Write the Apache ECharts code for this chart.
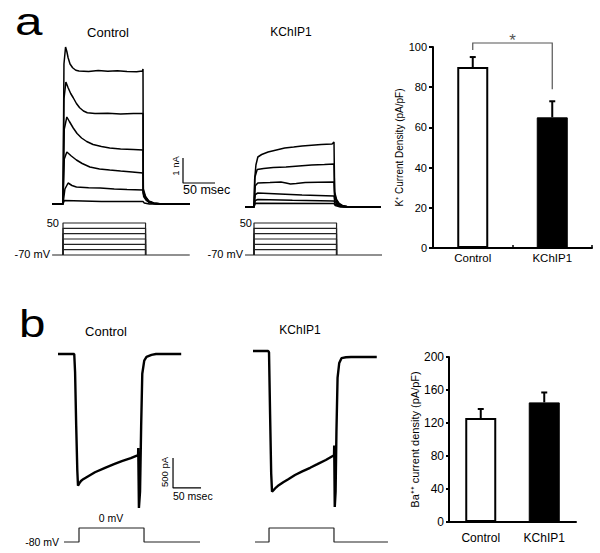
<!DOCTYPE html>
<html><head><meta charset="utf-8">
<script src="https://cdn.jsdelivr.net/npm/echarts@6.0.0/dist/echarts.min.js"></script>
<style>html,body{margin:0;padding:0;background:#fff}#c{width:600px;height:553px}</style>
</head><body><div id="c"></div>
<script>
// ---------- bar chart data ----------
const categories = ['Control', 'KChIP1'];
const kDensity = [90, 65];          // K+ current density (pA/pF)
const kSem = [5, 8];
const kTicks = [0, 20, 40, 60, 80, 100];
const kSigBracket = [98.5, 102, 79]; // left foot, top, right foot (pA/pF)
const kStarValue = 103;
const baDensity = [126, 145];       // Ba++ current density (pA/pF)
const baSem = [11, 12];
const baTicks = [0, 40, 80, 120, 160, 200];

// ---------- panel a: K+ current traces (t ms, I nA) ----------
const ctrlA1 = [[3,0],[20,0],[21.5,5.6],[24,6.28],[26,6.1],[28,5.85],[31,5.6],[35,5.45],[40,5.35],[45,5.32],[60,5.3],[75,5.34],[90,5.31],[105,5.33],[120,5.3],[135,5.29],[144,5.32],[145,5.4],[145.5,0.6],[149,0.3],[154,0.12],[162,0.04],[175,0],[218,0]];
const ctrlA2 = [[3,0],[20,0],[21.5,4.2],[24.5,4.88],[28,4.65],[32,4.42],[36,4.25],[41,4.02],[46,3.85],[52,3.72],[58,3.65],[70,3.62],[90,3.63],[110,3.6],[130,3.62],[145,3.62],[145.5,0.5],[149,0.27],[154,0.1],[162,0.03],[175,0],[218,0]];
const ctrlA3 = [[3,0],[20,0],[22,3.0],[26,3.48],[30,3.3],[36,3.04],[42,2.82],[49,2.64],[57,2.5],[67,2.38],[80,2.3],[93,2.24],[110,2.2],[130,2.18],[145,2.16],[145.5,0.45],[149,0.25],[154,0.1],[162,0.03],[175,0],[218,0]];
const ctrlA4 = [[3,0],[20,0],[22,1.8],[26,2.08],[33,1.92],[41,1.76],[50,1.62],[62,1.48],[77,1.4],[93,1.36],[110,1.32],[128,1.28],[145,1.24],[145.5,0.4],[149,0.22],[154,0.08],[162,0.02],[175,0],[218,0]];
const ctrlA5 = [[3,0],[20,0],[23,0.6],[28,0.84],[34,0.74],[41,0.68],[60,0.65],[78,0.64],[100,0.6],[120,0.58],[145,0.56],[146,0.3],[150,0.15],[156,0.05],[165,0],[218,0]];
const ctrlA6 = [[3,0],[20,0],[22,0.14],[80,0.1],[145,0.1],[147,0.04],[155,0],[218,0]];
const kchA1 = [[6,0],[20,0],[21,1.1],[23,1.68],[26,2.0],[32,2.1],[42,2.2],[55,2.28],[68,2.36],[82,2.4],[95,2.44],[110,2.47],[125,2.5],[142,2.52],[145,2.6],[146,0.6],[149,0.3],[153,0.14],[158,0.06],[165,0.02],[175,0],[218,0]];
const kchA2 = [[6,0],[20,0],[21.5,1.2],[25,1.5],[35,1.54],[50,1.58],[70,1.6],[90,1.64],[110,1.68],[130,1.7],[145,1.72],[146,0.5],[149,0.26],[153,0.12],[158,0.05],[168,0],[218,0]];
const kchA3 = [[6,0],[20,0],[22,0.85],[26,0.96],[45,0.98],[62,1.0],[70,0.96],[77,0.92],[86,0.94],[100,0.98],[120,0.99],[145,1.0],[146,0.4],[149,0.2],[153,0.09],[160,0.03],[170,0],[218,0]];
const kchA4 = [[6,0],[20,0],[22,0.5],[26,0.56],[60,0.52],[95,0.48],[145,0.44],[146,0.25],[150,0.12],[156,0.04],[165,0],[218,0]];
const kchA5 = [[6,0],[20,0],[22,0.26],[26,0.3],[80,0.27],[145,0.24],[147,0.12],[152,0.05],[160,0],[218,0]];
const kchA6 = [[6,0],[20,0],[22,0.15],[145,0.14],[147,0.06],[155,0],[218,0]];
// voltage protocol a (mV)
const protoAHold = -70;
const protoASteps = [50, 30, 10, -10, -30, -50];
const protoAStepTimes = [20, 149];
const protoACtrlSpan = [3, 218];
const protoAKchSpan = [6, 220];
// scale bar a: [t0, I0, dt, dI]
const scaleA = [207.5, 0.84, 50, 1];

// ---------- panel b: Ba++ current traces (t ms, I pA) ----------
const ctrlB = [[0,0],[29,0],[30.5,-300],[32.5,-1200],[34.5,-1950],[35.7,-2200],[38,-2160],[41,-2120],[45,-2090],[54,-2040],[66,-1975],[84,-1900],[100,-1840],[114,-1790],[130,-1740],[143,-1690],[143.3,-1570],[144.5,-2570],[146.5,-2300],[148.5,-1200],[150.5,-330],[154,-110],[158,-50],[167,-15],[175,0],[220,0]];
const kchB = [[0,50],[27,50],[28.6,30],[30.5,-1000],[32.5,-2000],[34,-2300],[37,-2270],[41,-2230],[46,-2190],[54,-2140],[63,-2090],[75,-2020],[88,-1960],[102,-1900],[115,-1840],[130,-1770],[144.7,-1690],[145,-1530],[146,-2555],[147.5,-2300],[149,-1300],[151,-400],[154,-150],[158,-70],[166,-55],[175,-50],[221,-50]];
const protoBHold = -80;
const protoBTest = 0;
const protoBCtrlTimes = [10.7, 37.5, 153.6, 253.6];
const protoBKchTimes = [3.6, 28.6, 144.6, 241];
// scale bar b: [t0, I0, dt, dI]
const scaleB = [205.4, -1737, 50, 500];

// ---------- build ----------
const FONT = '"Liberation Sans", Arial, Helvetica, sans-serif';
const chart = echarts.init(document.getElementById('c'), null, {renderer: 'svg'});

const grids = [
  {left: 433, top: 47, width: 159, height: 201},      // 0 bar a
  {left: 449, top: 357, width: 127, height: 165},     // 1 bar b
  {left: 50.2, top: 39, width: 166.4, height: 170},   // 2 ctrl a traces
  {left: 241.2, top: 42, width: 140.8, height: 170},  // 3 kch a traces
  {left: 50.2, top: 223, width: 166.4, height: 32},   // 4 ctrl a protocol
  {left: 241.2, top: 223, width: 140.8, height: 32},  // 5 kch a protocol
  {left: 58, top: 345, width: 145.6, height: 170.7},  // 6 ctrl b trace
  {left: 253, top: 345, width: 137.2, height: 170.7}, // 7 kch b trace
  {left: 58, top: 528, width: 145.6, height: 14},     // 8 ctrl b protocol
  {left: 253, top: 528, width: 137.2, height: 14}     // 9 kch b protocol
].map(g => Object.assign({outerBoundsMode: 'none', containLabel: false, show: false}, g));

const hx = (gi, min, max) => ({gridIndex: gi, type: 'value', min, max, show: false});
const xAxes = [
  {gridIndex: 0, type: 'category', data: categories,
   axisLine: {show: true, lineStyle: {color: '#000', width: 2}},
   axisTick: {show: true, inside: true, length: 3, lineStyle: {color: '#000', width: 1.5}},
   axisLabel: {color: '#000', fontSize: 11.5, margin: 4, fontFamily: FONT}, splitLine: {show: false}},
  {gridIndex: 1, type: 'category', data: categories,
   axisLine: {show: true, lineStyle: {color: '#000', width: 2}},
   axisTick: {show: false},
   axisLabel: {color: '#000', fontSize: 12, margin: 10, fontFamily: FONT}, splitLine: {show: false}},
  hx(2, 0, 260), hx(3, 0, 220), hx(4, 0, 260), hx(5, 0, 220),
  hx(6, 0, 260), hx(7, 0, 245), hx(8, 0, 260), hx(9, 0, 245)
];
const yAxes = [
  {gridIndex: 0, type: 'value', min: kTicks[0], max: kTicks[kTicks.length-1], interval: kTicks[1]-kTicks[0],
   axisLine: {show: true, lineStyle: {color: '#000', width: 2}},
   axisTick: {show: true, length: 4, lineStyle: {color: '#000', width: 2}},
   axisLabel: {color: '#000', fontSize: 11, margin: 6, fontFamily: FONT}, splitLine: {show: false},
   name: 'K\u207A Current Density (pA/pF)', nameLocation: 'middle', nameGap: 25,
   nameTextStyle: {color: '#000', fontSize: 10, fontFamily: FONT}},
  {gridIndex: 1, type: 'value', min: baTicks[0], max: baTicks[baTicks.length-1], interval: baTicks[1]-baTicks[0],
   axisLine: {show: true, lineStyle: {color: '#000', width: 2}},
   axisTick: {show: true, length: 3, lineStyle: {color: '#000', width: 2}},
   axisLabel: {color: '#000', fontSize: 12, margin: 5, fontFamily: FONT}, splitLine: {show: false},
   name: 'Ba\u207A\u207A current density (pA/pF)', nameLocation: 'middle', nameGap: 26,
   nameTextStyle: {color: '#000', fontSize: 11, fontFamily: FONT}},
  hx(2, -0.2, 6.6), hx(3, -0.2, 6.6), hx(4, -70, 50), hx(5, -70, 50),
  hx(6, -2700, 150), hx(7, -2700, 150), hx(8, -80, 0), hx(9, -80, 0)
];

const line = (data, gi, w, color) => ({type: 'line', xAxisIndex: gi, yAxisIndex: gi, data,
  showSymbol: false, symbol: 'none', smooth: false, clip: false, silent: true, animation: false,
  lineStyle: {color: color || '#000', width: w}, z: 3});

const series = [];
// bars
const barItems = (vals) => vals.map((v, i) => ({value: v, itemStyle: i === 0
  ? {color: '#fff', borderColor: '#000', borderWidth: 2}
  : {color: '#000', borderColor: '#000', borderWidth: 1}}));
series.push({type: 'bar', xAxisIndex: 0, yAxisIndex: 0, data: barItems(kDensity), barWidth: 31, animation: false, silent: true});
series.push({type: 'bar', xAxisIndex: 1, yAxisIndex: 1, data: barItems(baDensity), barWidth: 31, animation: false, silent: true});
const errRender = (params, api) => {
  const i = api.value(0), m = api.value(1), e = api.value(2);
  const p0 = api.coord([i, m]), p1 = api.coord([i, m + e]);
  return {type: 'group', children: [
    {type: 'line', shape: {x1: p0[0], y1: p0[1], x2: p1[0], y2: p1[1]}, style: {stroke: '#000', lineWidth: 2}},
    {type: 'line', shape: {x1: p1[0] - 3, y1: p1[1], x2: p1[0] + 3, y2: p1[1]}, style: {stroke: '#000', lineWidth: 2}}
  ]};
};
series.push({type: 'custom', xAxisIndex: 0, yAxisIndex: 0, renderItem: errRender, clip: false, z: 5, animation: false,
  encode: {x: 0, y: 1}, data: kDensity.map((v, i) => [i, v, kSem[i]])});
series.push({type: 'custom', xAxisIndex: 1, yAxisIndex: 1, renderItem: errRender, clip: false, z: 5, animation: false,
  encode: {x: 0, y: 1}, data: baDensity.map((v, i) => [i, v, baSem[i]])});
series.push({type: 'custom', xAxisIndex: 0, yAxisIndex: 0, clip: false, z: 6, animation: false,
  encode: {x: 0, y: 1}, data: [[0, kSigBracket[0], kSigBracket[1], kSigBracket[2], kStarValue]],
  renderItem: (params, api) => {
    const a = api.coord([0, api.value(1)]), b = api.coord([0, api.value(2)]);
    const c = api.coord([1, api.value(2)]), d = api.coord([1, api.value(3)]);
    const s = api.coord([0, api.value(4)]);
    return {type: 'group', children: [
      {type: 'polyline', shape: {points: [a, b, c, d]}, style: {stroke: '#555', lineWidth: 1.2, fill: 'none'}},
      {type: 'text', style: {text: '*', x: (b[0] + c[0]) / 2, y: s[1], fill: '#555', fontSize: 17, fontFamily: FONT, align: 'center', verticalAlign: 'middle'}}
    ]};
  }});

// panel a traces
[ctrlA1, ctrlA2, ctrlA3, ctrlA4, ctrlA5, ctrlA6].forEach(d => series.push(line(d, 2, 1.5)));
[kchA1, kchA2, kchA3, kchA4, kchA5, kchA6].forEach(d => series.push(line(d, 3, 1.5)));
series.push(line([[scaleA[0], scaleA[1] + scaleA[3]], [scaleA[0], scaleA[1]], [scaleA[0] + scaleA[2], scaleA[1]]], 2, 1.2));
// panel a protocols
const protoA = (gi, span) => {
  series.push(line([[span[0], protoAHold], [span[1], protoAHold]], gi, 1.2, '#222'));
  protoASteps.forEach(v => series.push(line([[protoAStepTimes[0], protoAHold], [protoAStepTimes[0], v],
    [protoAStepTimes[1], v], [protoAStepTimes[1], protoAHold]], gi, 1.2, '#222')));
};
protoA(4, protoACtrlSpan);
protoA(5, protoAKchSpan);

// panel b traces
series.push(line(ctrlB, 6, 2.4));
series.push(line(kchB, 7, 2.4));
series.push(line([[scaleB[0], scaleB[1]], [scaleB[0], scaleB[1] - scaleB[3]], [scaleB[0] + scaleB[2], scaleB[1] - scaleB[3]]], 6, 1.2));
const protoB = (gi, ts) => series.push(line([[ts[0], protoBHold], [ts[1], protoBHold], [ts[1], protoBTest],
  [ts[2], protoBTest], [ts[2], protoBHold], [ts[3], protoBHold]], gi, 1.2, '#222'));
protoB(8, protoBCtrlTimes);
protoB(9, protoBKchTimes);

// annotation texts
const txt = (text, x, y, size, align, extra) => Object.assign({type: 'text', x, y, silent: true,
  style: {text, fill: '#000', fontSize: size, fontFamily: FONT, align: align || 'center', verticalAlign: 'middle'}}, extra || {});
const graphic = [
  txt('a', 15, 22, 38, 'left', {scaleX: 1.3}),
  txt('b', 19, 324, 38, 'left', {scaleX: 1.25}),
  txt('Control', 108, 32, 13),
  txt('KChIP1', 291, 32, 12),
  txt('Control', 106, 331, 13),
  txt('KChIP1', 300, 330, 12),
  txt('1 nA', 175, 166, 9.5, 'center', {rotation: Math.PI / 2}),
  txt('50 msec', 183, 190, 12.5, 'left'),
  txt('50', 59, 223, 11, 'right'),
  txt('-70 mV', 50, 254, 11, 'right'),
  txt('50', 252, 223, 11, 'right'),
  txt('-70 mV', 243, 254, 11, 'right'),
  txt('500 pA', 164, 472, 9.5, 'center', {rotation: Math.PI / 2}),
  txt('50 msec', 173, 496, 10.5, 'left'),
  txt('0 mV', 111, 518, 10.5),
  txt('-80 mV', 59, 542, 10.5, 'right')
];

chart.setOption({
  animation: false,
  backgroundColor: '#fff',
  textStyle: {fontFamily: FONT},
  grid: grids, xAxis: xAxes, yAxis: yAxes, series, graphic
});
</script></body></html>
